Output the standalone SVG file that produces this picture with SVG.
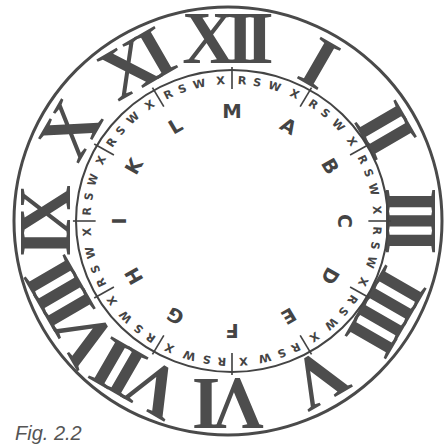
<svg xmlns="http://www.w3.org/2000/svg" width="446" height="444" viewBox="0 0 446 444">
<style>
.num{font-family:"Liberation Serif",serif;font-weight:bold;font-size:73px;fill:#4d4d4d;text-anchor:middle;letter-spacing:-9px}
.rg{font-family:"DejaVu Sans",sans-serif;font-weight:bold;font-size:11px;fill:#444;text-anchor:middle}
.lt{font-family:"DejaVu Sans",sans-serif;font-weight:bold;font-size:19px;fill:#444;text-anchor:middle}
.tk{stroke:#444;stroke-width:1.6}
</style>
<rect width="446" height="444" fill="#fff"/>
<g id="outer">
<circle cx="228" cy="221" r="214" fill="none" stroke="#4a4a4a" stroke-width="3"/>
</g>
<g id="numerals" transform="translate(228,221)">
<text class="num" x="-4.5" y="-158" transform="rotate(30)">I</text>
<text class="num" x="-4.5" y="-158" transform="rotate(60)">II</text>
<text class="num" x="-4.5" y="-158" transform="rotate(90)">III</text>
<text class="num" x="-4.5" y="-158" transform="rotate(120)">IIII</text>
<text class="num" x="-4.5" y="-158" transform="rotate(150)">V</text>
<text class="num" x="-4.5" y="-158" transform="rotate(180)">VI</text>
<text class="num" x="-4.5" y="-158" transform="rotate(210)">VII</text>
<text class="num" x="-4.5" y="-158" transform="rotate(240)">VIII</text>
<text class="num" x="-4.5" y="-158" transform="rotate(270)">IX</text>
<text class="num" x="-4.5" y="-158" transform="rotate(300)">X</text>
<text class="num" x="-4.5" y="-158" transform="rotate(330)">XI</text>
<text class="num" x="-4.5" y="-158" transform="rotate(0)">XII</text>
</g>
<g id="ring" transform="translate(232,221) scale(1.033,1)">
<circle r="151" fill="none" stroke="#444" stroke-width="2"/>
<g id="ticks">
<line class="tk" y1="-154" y2="-132" transform="rotate(0)"/>
<line class="tk" y1="-154" y2="-132" transform="rotate(30)"/>
<line class="tk" y1="-154" y2="-132" transform="rotate(60)"/>
<line class="tk" y1="-154" y2="-132" transform="rotate(90)"/>
<line class="tk" y1="-154" y2="-132" transform="rotate(120)"/>
<line class="tk" y1="-154" y2="-132" transform="rotate(150)"/>
<line class="tk" y1="-154" y2="-132" transform="rotate(180)"/>
<line class="tk" y1="-154" y2="-132" transform="rotate(210)"/>
<line class="tk" y1="-154" y2="-132" transform="rotate(240)"/>
<line class="tk" y1="-154" y2="-132" transform="rotate(270)"/>
<line class="tk" y1="-154" y2="-132" transform="rotate(300)"/>
<line class="tk" y1="-154" y2="-132" transform="rotate(330)"/>
</g>
<g id="rswx">
<text class="rg" y="-137" transform="rotate(4)">R</text><text class="rg" y="-137" transform="rotate(10)">S</text><text class="rg" y="-137" transform="rotate(17)">W</text><text class="rg" y="-137" transform="rotate(25.5)">X</text>
<text class="rg" y="-137" transform="rotate(34)">R</text><text class="rg" y="-137" transform="rotate(40)">S</text><text class="rg" y="-137" transform="rotate(47)">W</text><text class="rg" y="-137" transform="rotate(55.5)">X</text>
<text class="rg" y="-137" transform="rotate(64)">R</text><text class="rg" y="-137" transform="rotate(70)">S</text><text class="rg" y="-137" transform="rotate(77)">W</text><text class="rg" y="-137" transform="rotate(85.5)">X</text>
<text class="rg" y="-137" transform="rotate(94)">R</text><text class="rg" y="-137" transform="rotate(100)">S</text><text class="rg" y="-137" transform="rotate(107)">W</text><text class="rg" y="-137" transform="rotate(115.5)">X</text>
<text class="rg" y="-137" transform="rotate(124)">R</text><text class="rg" y="-137" transform="rotate(130)">S</text><text class="rg" y="-137" transform="rotate(137)">W</text><text class="rg" y="-137" transform="rotate(145.5)">X</text>
<text class="rg" y="-137" transform="rotate(154)">R</text><text class="rg" y="-137" transform="rotate(160)">S</text><text class="rg" y="-137" transform="rotate(167)">W</text><text class="rg" y="-137" transform="rotate(175.5)">X</text>
<text class="rg" y="-137" transform="rotate(184)">R</text><text class="rg" y="-137" transform="rotate(190)">S</text><text class="rg" y="-137" transform="rotate(197)">W</text><text class="rg" y="-137" transform="rotate(205.5)">X</text>
<text class="rg" y="-137" transform="rotate(214)">R</text><text class="rg" y="-137" transform="rotate(220)">S</text><text class="rg" y="-137" transform="rotate(227)">W</text><text class="rg" y="-137" transform="rotate(235.5)">X</text>
<text class="rg" y="-137" transform="rotate(244)">R</text><text class="rg" y="-137" transform="rotate(250)">S</text><text class="rg" y="-137" transform="rotate(257)">W</text><text class="rg" y="-137" transform="rotate(265.5)">X</text>
<text class="rg" y="-137" transform="rotate(274)">R</text><text class="rg" y="-137" transform="rotate(280)">S</text><text class="rg" y="-137" transform="rotate(287)">W</text><text class="rg" y="-137" transform="rotate(295.5)">X</text>
<text class="rg" y="-137" transform="rotate(304)">R</text><text class="rg" y="-137" transform="rotate(310)">S</text><text class="rg" y="-137" transform="rotate(317)">W</text><text class="rg" y="-137" transform="rotate(325.5)">X</text>
<text class="rg" y="-137" transform="rotate(334)">R</text><text class="rg" y="-137" transform="rotate(340)">S</text><text class="rg" y="-137" transform="rotate(347)">W</text><text class="rg" y="-137" transform="rotate(355.5)">X</text>
</g>
<g id="letters">
<text class="lt" y="-103" transform="rotate(0)">M</text>
<text class="lt" y="-103" transform="rotate(30)">A</text>
<text class="lt" y="-103" transform="rotate(60)">B</text>
<text class="lt" y="-103" transform="rotate(90)">C</text>
<text class="lt" y="-103" transform="rotate(120)">D</text>
<text class="lt" y="-103" transform="rotate(150)">E</text>
<text class="lt" y="-103" transform="rotate(180)">F</text>
<text class="lt" y="-103" transform="rotate(210)">G</text>
<text class="lt" y="-103" transform="rotate(240)">H</text>
<text class="lt" y="-103" transform="rotate(270)">I</text>
<text class="lt" y="-103" transform="rotate(300)">K</text>
<text class="lt" y="-103" transform="rotate(330)">L</text>
</g>
</g>
<text id="caption" x="15" y="440" font-family="Liberation Sans, sans-serif" font-style="italic" font-size="20" fill="#555">Fig. 2.2</text>
</svg>
